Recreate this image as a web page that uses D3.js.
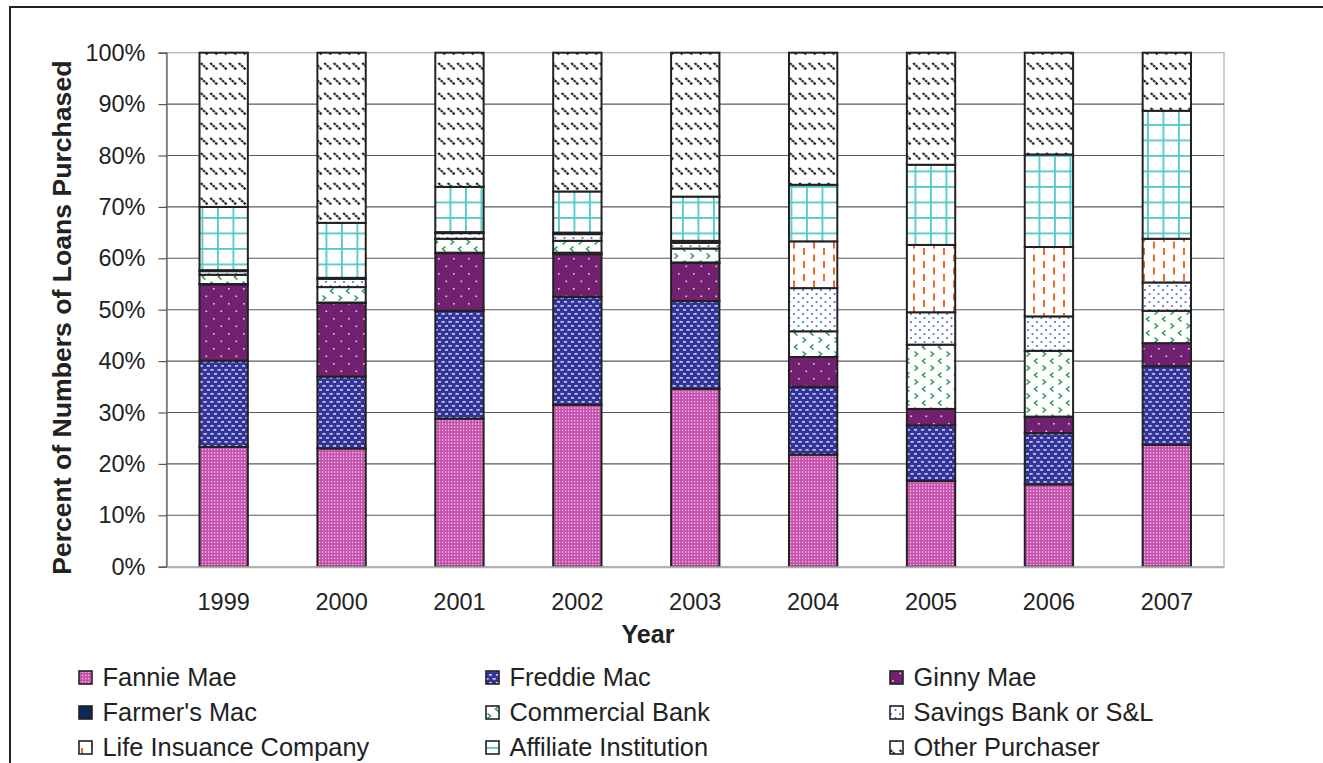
<!DOCTYPE html>
<html>
<head>
<meta charset="utf-8">
<script src="https://cdn.jsdelivr.net/npm/d3@7"></script>
<style>
html,body{margin:0;padding:0;background:#fff;}
svg{display:block;font-family:"Liberation Sans",Arial,sans-serif;}
</style>
</head>
<body>
<svg id="chart" width="1323" height="763"></svg>
<script>
// ---- data ----
const years = ["1999","2000","2001","2002","2003","2004","2005","2006","2007"];
const seriesNames = ["Fannie Mae","Freddie Mac","Ginny Mae","Farmer's Mac","Commercial Bank","Savings Bank or S&L","Life Insuance Company","Affiliate Institution","Other Purchaser"];
const fannieMae      = [23.3, 23.0, 28.8, 31.5, 34.6, 21.8, 16.7, 16.0, 23.7];
const freddieMac     = [16.8, 14.0, 21.0, 21.0, 17.1, 13.2, 10.8, 10.0, 15.3];
const ginnyMae       = [14.8, 14.3, 11.2,  8.3,  7.4,  5.8,  3.2,  3.2,  4.5];
const farmersMac     = [ 0.1,  0.1,  0.1,  0.3,  0.1,  0.0,  0.0,  0.0,  0.0];
const commercialBank = [ 1.8,  3.0,  2.7,  2.3,  2.7,  5.0, 12.5, 12.8,  6.3];
const savingsBank    = [ 0.7,  1.6,  1.1,  1.3,  1.1,  8.4,  6.3,  6.7,  5.5];
const lifeInsurance  = [ 0.2,  0.2,  0.2,  0.3,  0.4,  9.1, 13.1, 13.5,  8.5];
const affiliateInst  = [12.3, 10.7,  8.8,  8.0,  8.6, 11.0, 15.6, 18.0, 24.9];
const otherPurchaser = [30.0, 33.1, 26.1, 27.0, 28.0, 25.7, 21.8, 19.8, 11.3];
const yTicks = [0,10,20,30,40,50,60,70,80,90,100];
const yTickLabels = ["0%","10%","20%","30%","40%","50%","60%","70%","80%","90%","100%"];
const xTitle = "Year";
const yTitle = "Percent of Numbers of Loans Purchased";

const seriesValues = [fannieMae, freddieMac, ginnyMae, farmersMac, commercialBank, savingsBank, lifeInsurance, affiliateInst, otherPurchaser];
const table = years.map((y,i)=>{ const o={year:y}; seriesNames.forEach((n,k)=>o[n]=seriesValues[k][i]); return o; });

// ---- layout ----
const svg = d3.select("#chart");
const plot = {left:166.5, top:52.7, right:1224, bottom:566.7};
const x = d3.scaleBand().domain(years).range([plot.left, plot.right]).paddingInner(0.59).paddingOuter(0.28);
const y = d3.scaleLinear().domain([0,100]).range([plot.bottom, plot.top]);

// ---- patterns ----
const defs = svg.append("defs");
function pat(id,w,h){ return defs.append("pattern").attr("id",id).attr("patternUnits","userSpaceOnUse").attr("width",w).attr("height",h); }
// Fannie
let p = pat("p0",3,3.2);
p.append("rect").attr("width",3).attr("height",3.2).attr("fill","#c64fae");
p.append("rect").attr("x",1).attr("y",1).attr("width",1.3).attr("height",1.3).attr("fill","#f3d3ea");
// Freddie
p = pat("p1",7,8);
p.append("rect").attr("width",7).attr("height",8).attr("fill","#34359a");
p.append("rect").attr("x",0.5).attr("y",1.2).attr("width",3.2).attr("height",1.4).attr("fill","#e6e8f7");
p.append("rect").attr("x",4).attr("y",5.2).attr("width",3.2).attr("height",1.4).attr("fill","#e6e8f7");
// Ginny
p = pat("p2",15,15);
p.append("rect").attr("width",15).attr("height",15).attr("fill","#71216f");
p.append("rect").attr("x",3).attr("y",3).attr("width",1.6).attr("height",1.6).attr("fill","#e8cfe6");
p.append("rect").attr("x",10.5).attr("y",10.5).attr("width",1.6).attr("height",1.6).attr("fill","#e8cfe6");
// Farmer's Mac
p = pat("p3",4,4);
p.append("rect").attr("width",4).attr("height",4).attr("fill","#0d2a57");
// Commercial
p = pat("p4",16,14);
p.append("rect").attr("width",16).attr("height",14).attr("fill","#fff");
p.append("path").attr("d","M2.5,1.5 L5.5,4 L2.5,6.5").attr("fill","none").attr("stroke","#2f9e5e").attr("stroke-width",1.6);
p.append("path").attr("d","M13.5,8.5 L10.5,11 L13.5,13.5").attr("fill","none").attr("stroke","#2f9e5e").attr("stroke-width",1.6);
// Savings
p = pat("p5",9,8);
p.append("rect").attr("width",9).attr("height",8).attr("fill","#fff");
p.append("circle").attr("cx",2).attr("cy",2).attr("r",1.05).attr("fill","#4a6fcf");
p.append("circle").attr("cx",6.5).attr("cy",6).attr("r",1.05).attr("fill","#4a6fcf");
// Life insurance
p = pat("p6",20,26);
p.append("rect").attr("width",20).attr("height",26).attr("fill","#fff");
[[3,1],[3,14],[13,7.5],[13,20.5]].forEach(([a,b])=>p.append("rect").attr("x",a).attr("y",b).attr("width",2).attr("height",7).attr("fill","#f26a2b"));
p.append("rect").attr("x",13).attr("y",-5.5).attr("width",2).attr("height",7).attr("fill","#f26a2b");
// Affiliate
p = pat("p7",15.5,15.5);
p.append("rect").attr("width",15.5).attr("height",15.5).attr("fill","#fff");
p.append("rect").attr("x",0).attr("y",0).attr("width",1.8).attr("height",15.5).attr("fill","#52c9c9");
p.append("rect").attr("x",0).attr("y",0).attr("width",15.5).attr("height",1.8).attr("fill","#52c9c9");
// Other
p = pat("p8",9.5,15);
p.append("rect").attr("width",9.5).attr("height",15).attr("fill","#fff");
p.append("path").attr("d","M1.2,3 L8.6,9.8").attr("stroke","#1e1e1e").attr("stroke-width",2.2).attr("stroke-dasharray","2.6,0.8");

const fills = seriesNames.map((n,i)=>"url(#p"+i+")");

// ---- outer frame ----
svg.append("path").attr("d","M10,763 L10,7 L1323,7").attr("fill","none").attr("stroke","#222").attr("stroke-width",2);

// ---- grid & plot border ----
svg.append("rect").attr("x",plot.left).attr("y",plot.top).attr("width",plot.right-plot.left).attr("height",plot.bottom-plot.top)
  .attr("fill","none").attr("stroke","#bdbdbd").attr("stroke-width",1.5);
svg.append("g").selectAll("line").data(yTicks.filter(t=>t>0 && t<100)).join("line")
  .attr("x1",plot.left).attr("x2",plot.right).attr("y1",d=>y(d)).attr("y2",d=>y(d))
  .attr("stroke","#5a5a5a").attr("stroke-width",1.1);

// ---- y axis ----
const yAxis = d3.axisLeft(y).tickValues(yTicks).tickFormat((d,i)=>yTickLabels[i]).tickSize(8).tickPadding(13);
const ya = svg.append("g").attr("transform",`translate(${plot.left},0)`).call(yAxis);
ya.select(".domain").attr("stroke","#555").attr("stroke-width",1.2);
ya.selectAll(".tick line").attr("stroke","#555").attr("stroke-width",1.2);
ya.selectAll(".tick text").attr("font-size",23.5).attr("fill","#222").attr("font-family","Liberation Sans, Arial, sans-serif");

// ---- bars ----
const stack = d3.stack().keys(seriesNames).order(d3.stackOrderNone).offset(d3.stackOffsetNone);
const stacked = stack(table);
svg.append("g").selectAll("g").data(stacked).join("g")
  .attr("fill",(d,i)=>fills[i])
  .selectAll("rect").data(d=>d).join("rect")
  .attr("x",d=>x(d.data.year)).attr("width",x.bandwidth())
  .attr("y",d=>y(d[1])).attr("height",d=>Math.max(0,y(d[0])-y(d[1])))
  .attr("stroke","#222").attr("stroke-width",2);

// ---- x axis ----
const xAxis = d3.axisBottom(x).tickSize(0).tickPadding(27);
const xa = svg.append("g").attr("transform",`translate(0,${plot.bottom})`).call(xAxis);
xa.select(".domain").attr("stroke","#b0b0b0").attr("stroke-width",2);
xa.selectAll(".tick text").attr("font-size",23.5).attr("fill","#222").attr("font-family","Liberation Sans, Arial, sans-serif");

// ---- titles ----
svg.append("text").attr("x",648).attr("y",643).attr("text-anchor","middle")
  .attr("font-size",25).attr("font-weight","bold").attr("fill","#222").text(xTitle);
svg.append("text").attr("transform",`translate(71,${(plot.top+plot.bottom)/2+8}) rotate(-90)`).attr("text-anchor","middle")
  .attr("font-size",26.6).attr("font-weight","bold").attr("fill","#222").text(yTitle);

// ---- legend ----
const legX = [78, 485, 889];
const legY = [677, 712, 747];
const leg = svg.append("g").selectAll("g").data(seriesNames).join("g")
  .attr("transform",(d,i)=>`translate(${legX[i%3]},${legY[Math.floor(i/3)]})`);
leg.append("rect").attr("x",1).attr("y",-6).attr("width",13).attr("height",13)
  .attr("fill",(d,i)=>fills[i]).attr("stroke","#222").attr("stroke-width",1.6);
leg.append("text").attr("x",24.5).attr("y",0).attr("dy","0.35em").attr("font-size",25.4).attr("fill","#222").text(d=>d);
</script>
</body>
</html>
